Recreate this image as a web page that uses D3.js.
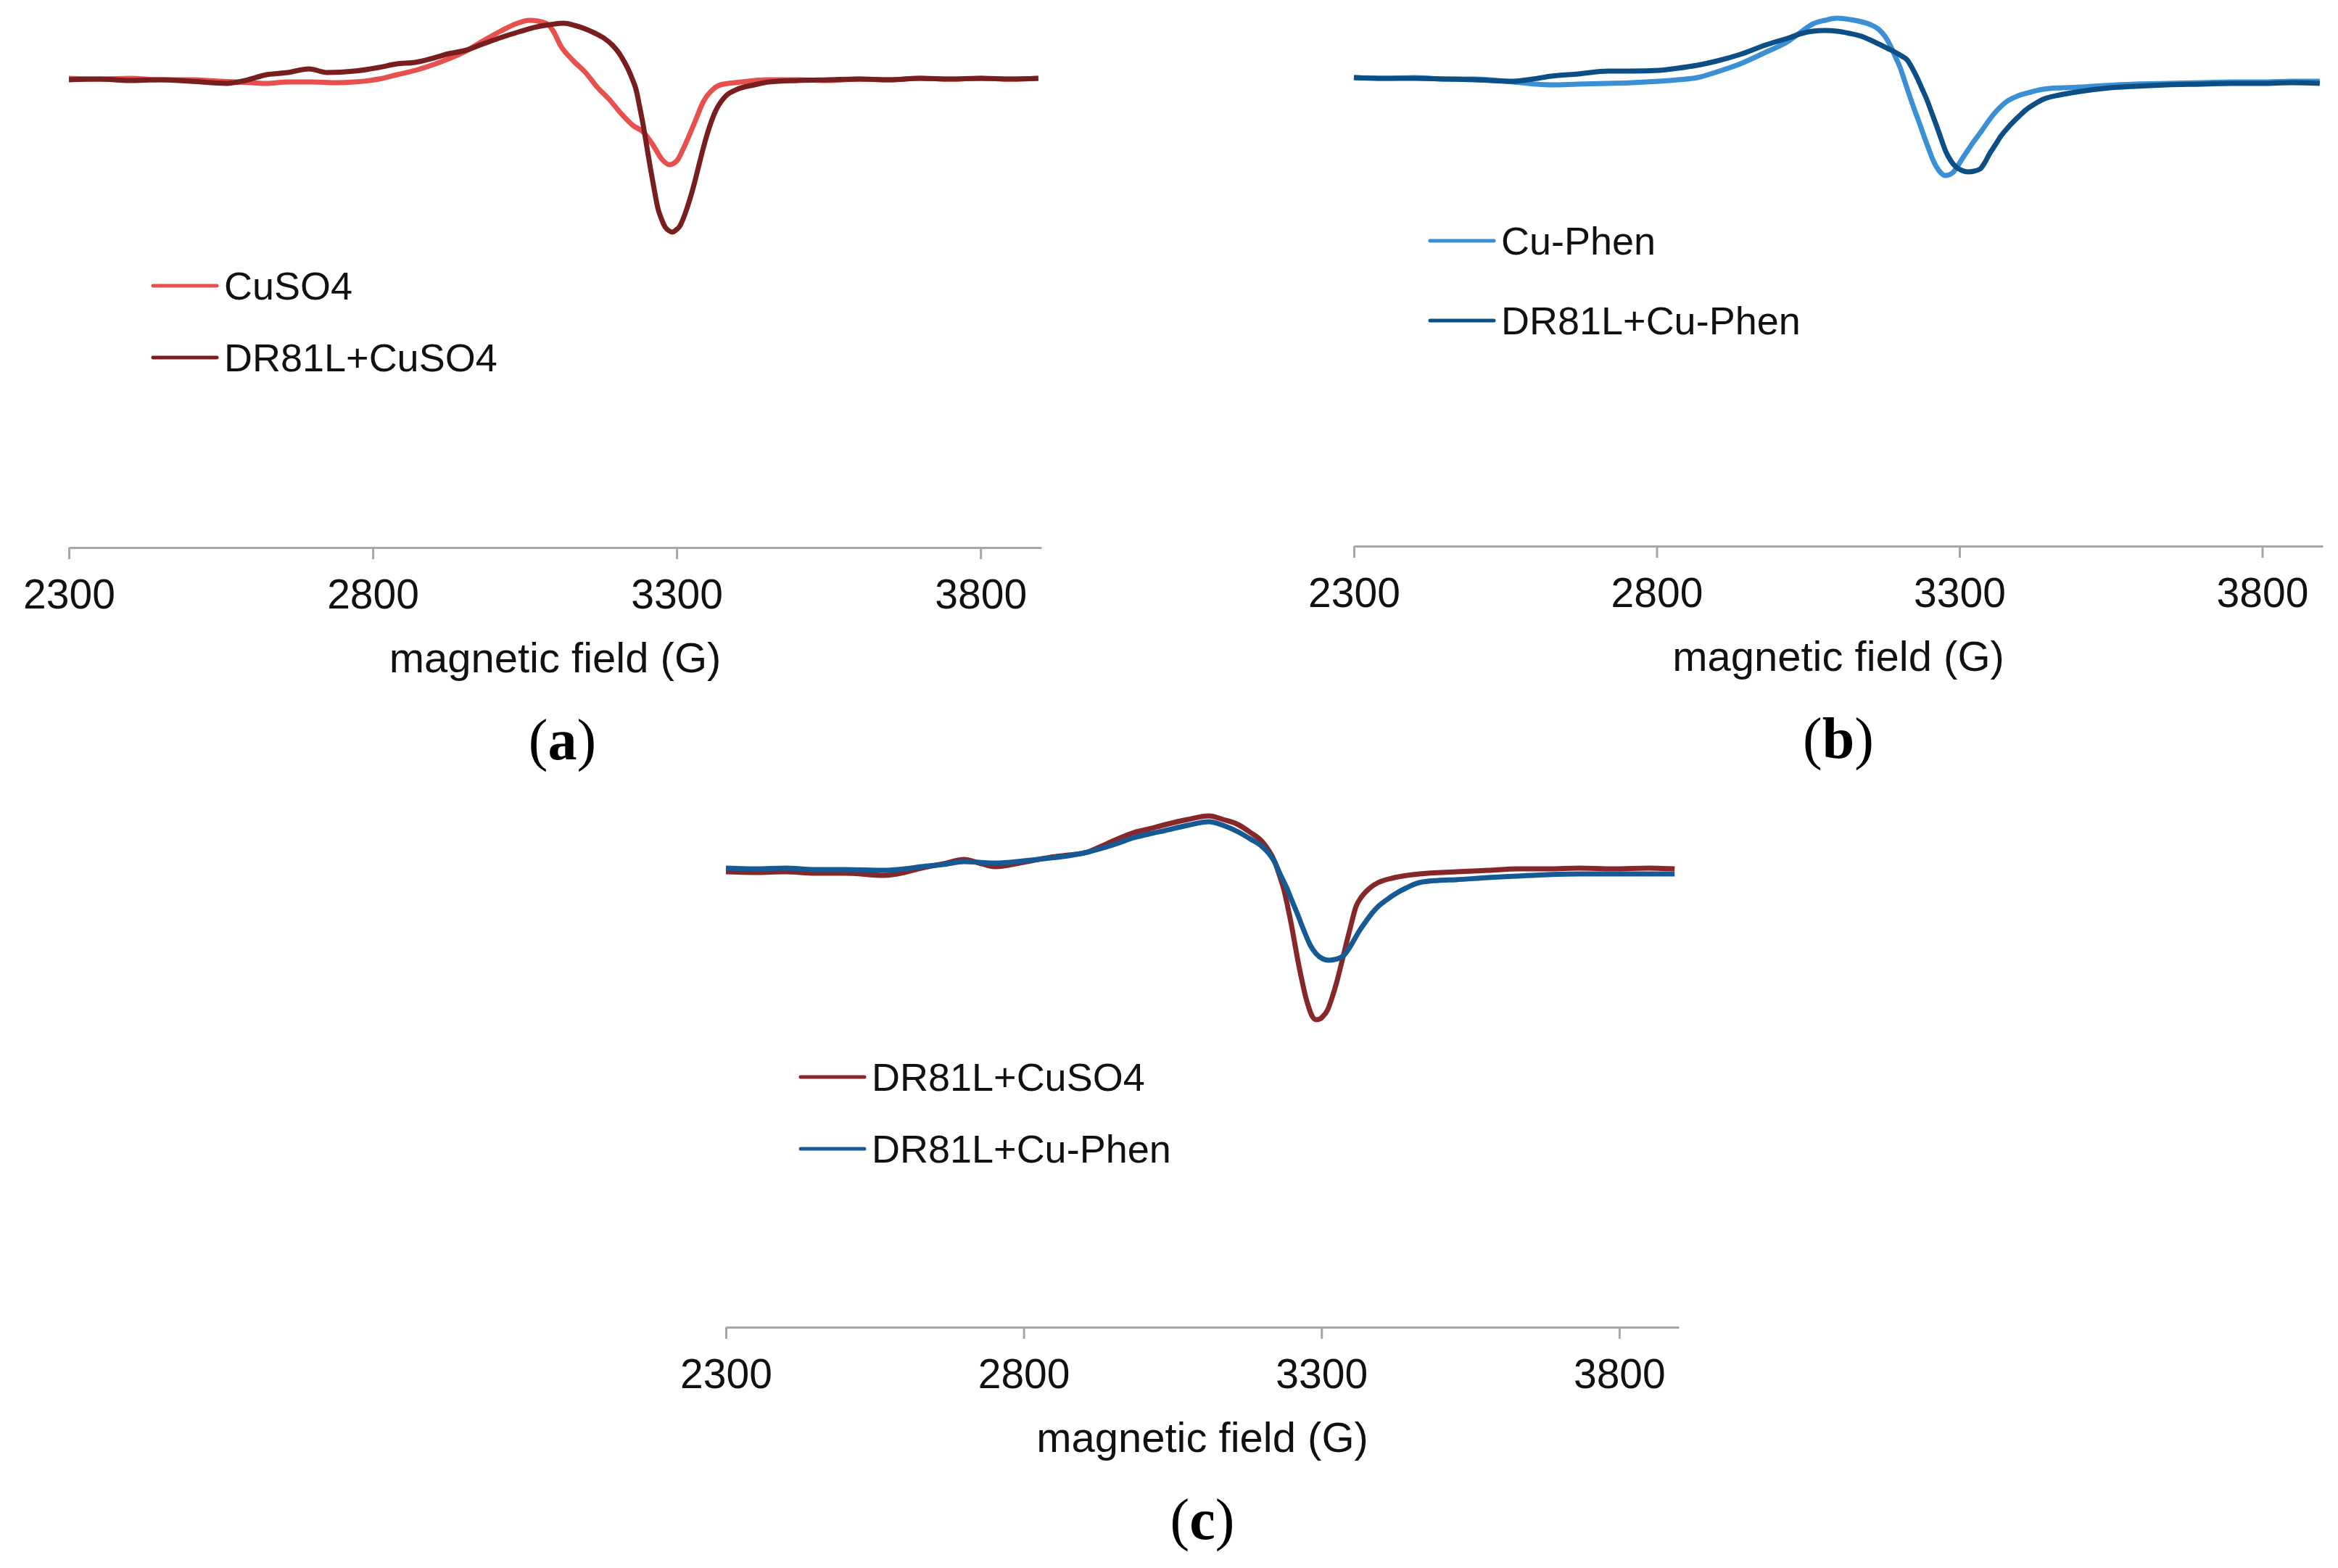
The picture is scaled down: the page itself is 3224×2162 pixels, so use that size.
<!DOCTYPE html>
<html>
<head>
<meta charset="utf-8">
<script src="https://cdn.jsdelivr.net/npm/d3@7"></script>
<style>
  html, body { margin: 0; padding: 0; background: #fff; }
  svg { display: block; }
</style>
</head>
<body>
<script>
// tick labels shared by all three panels
const fieldTicks = [2300, 2800, 3300, 3800];
const fieldDomain = [2300, 3900];

// EPR spectra: [field (G), signal (a.u.)]
const cuso4A = [
  [2300,-0.01],[2350,-0.02],[2400,-0.01],[2450,-0.03],[2500,-0.03],[2550,-0.05],[2600,-0.07],
  [2625,-0.08],[2660,-0.06],[2700,-0.06],[2740,-0.07],[2770,-0.06],[2810,-0.02],[2840,0.04],
  [2870,0.10],[2900,0.18],[2925,0.26],[2950,0.35],[2980,0.50],[3010,0.64],[3035,0.74],
  [3058,0.79],[3085,0.75],[3097,0.64],[3109,0.44],[3129,0.24],[3150,0.07],[3169,-0.13],
  [3189,-0.30],[3209,-0.50],[3228,-0.66],[3245,-0.75],[3261,-0.93],[3276,-1.13],[3288,-1.20],
  [3300,-1.15],[3312,-0.96],[3329,-0.63],[3344,-0.33],[3360,-0.16],[3372,-0.10],[3407,-0.06],
  [3448,-0.03],[3500,-0.03],[3550,-0.04],[3600,-0.02],[3650,-0.03],[3700,-0.01],[3750,-0.02],
  [3800,-0.01],[3850,-0.02],[3895,-0.01],
];
const dr81lCuso4A = [
  [2300,-0.03],[2350,-0.02],[2400,-0.04],[2450,-0.03],[2500,-0.05],[2560,-0.08],[2590,-0.04],
  [2625,0.04],[2660,0.07],[2695,0.12],[2725,0.07],[2770,0.09],[2810,0.14],[2840,0.19],
  [2870,0.21],[2900,0.27],[2925,0.33],[2950,0.37],[2980,0.46],[3010,0.55],[3040,0.63],
  [3070,0.70],[3092,0.73],[3114,0.75],[3132,0.72],[3150,0.67],[3166,0.61],[3181,0.54],
  [3194,0.45],[3205,0.34],[3213,0.23],[3221,0.10],[3227,-0.02],[3233,-0.16],[3239,-0.40],
  [3245,-0.66],[3251,-0.96],[3257,-1.26],[3263,-1.54],[3269,-1.80],[3275,-1.95],[3281,-2.06],
  [3287,-2.11],[3293,-2.13],[3299,-2.10],[3305,-2.05],[3311,-1.94],[3317,-1.80],[3323,-1.64],
  [3329,-1.46],[3335,-1.26],[3341,-1.06],[3352,-0.73],[3364,-0.46],[3380,-0.26],[3400,-0.16],
  [3428,-0.10],[3452,-0.06],[3500,-0.04],[3550,-0.03],[3600,-0.02],[3650,-0.03],[3700,-0.01],
  [3750,-0.02],[3800,-0.01],[3850,-0.02],[3895,-0.01],
];
const cuPhenB = [
  [2300,0.01],[2350,0.00],[2400,0.01],[2450,-0.01],[2500,-0.01],[2563,-0.05],[2600,-0.08],
  [2626,-0.09],[2670,-0.08],[2720,-0.07],[2760,-0.06],[2804,-0.04],[2835,-0.02],[2867,0.01],
  [2900,0.09],[2938,0.20],[2980,0.36],[3019,0.52],[3040,0.65],[3058,0.75],[3078,0.80],
  [3098,0.83],[3120,0.81],[3138,0.78],[3153,0.74],[3166,0.68],[3177,0.58],[3186,0.45],
  [3194,0.30],[3202,0.15],[3210,-0.05],[3218,-0.25],[3226,-0.44],[3234,-0.62],[3242,-0.81],
  [3250,-0.99],[3256,-1.12],[3262,-1.22],[3269,-1.30],[3276,-1.34],[3283,-1.33],[3289,-1.30],
  [3297,-1.21],[3306,-1.09],[3314,-0.99],[3322,-0.89],[3330,-0.80],[3337,-0.72],[3347,-0.60],
  [3357,-0.49],[3367,-0.40],[3378,-0.32],[3397,-0.24],[3418,-0.19],[3438,-0.15],[3470,-0.13],
  [3500,-0.12],[3538,-0.10],[3590,-0.08],[3643,-0.07],[3700,-0.06],[3748,-0.05],[3800,-0.05],
  [3850,-0.04],[3895,-0.04],
];
const dr81lCuPhenB = [
  [2300,0.01],[2350,0.00],[2400,0.00],[2450,-0.01],[2500,-0.02],[2563,-0.04],[2595,-0.01],
  [2626,0.03],[2670,0.06],[2720,0.10],[2760,0.10],[2804,0.11],[2835,0.14],[2867,0.18],
  [2900,0.24],[2938,0.33],[2980,0.46],[3019,0.56],[3040,0.62],[3058,0.65],[3078,0.66],
  [3098,0.65],[3118,0.62],[3138,0.58],[3155,0.52],[3170,0.46],[3182,0.41],[3194,0.36],
  [3204,0.31],[3214,0.25],[3222,0.14],[3230,0.01],[3238,-0.14],[3246,-0.29],[3254,-0.47],
  [3262,-0.65],[3270,-0.84],[3278,-1.02],[3286,-1.14],[3294,-1.22],[3304,-1.27],[3314,-1.29],
  [3324,-1.28],[3334,-1.25],[3342,-1.16],[3349,-1.05],[3359,-0.92],[3369,-0.79],[3380,-0.68],
  [3390,-0.59],[3400,-0.51],[3409,-0.44],[3423,-0.36],[3438,-0.29],[3465,-0.23],[3500,-0.18],
  [3538,-0.14],[3590,-0.11],[3643,-0.09],[3700,-0.08],[3748,-0.07],[3800,-0.07],[3850,-0.06],
  [3895,-0.07],
];
const dr81lCuso4C = [
  [2300,-0.04],[2350,-0.05],[2400,-0.04],[2450,-0.06],[2500,-0.06],[2566,-0.09],[2600,-0.05],
  [2628,0.01],[2665,0.07],[2700,0.13],[2725,0.08],[2752,0.03],[2800,0.09],[2845,0.16],
  [2875,0.19],[2907,0.23],[2930,0.31],[2957,0.41],[2985,0.50],[3010,0.55],[3038,0.61],
  [3075,0.68],[3111,0.73],[3135,0.68],[3160,0.61],[3181,0.50],[3200,0.38],[3211,0.26],
  [3221,0.11],[3229,-0.08],[3237,-0.29],[3243,-0.51],[3249,-0.75],[3255,-1.02],[3261,-1.29],
  [3267,-1.53],[3273,-1.75],[3279,-1.92],[3285,-2.04],[3291,-2.08],[3297,-2.07],[3303,-2.03],
  [3310,-1.95],[3318,-1.77],[3326,-1.55],[3334,-1.29],[3342,-1.02],[3350,-0.76],[3358,-0.52],
  [3366,-0.40],[3374,-0.32],[3385,-0.24],[3395,-0.19],[3423,-0.12],[3464,-0.07],[3526,-0.04],
  [3580,-0.02],[3629,0.00],[3680,0.00],[3733,0.01],[3790,0.00],[3850,0.01],[3893,0.00],
];
const dr81lCuPhenC = [
  [2300,0.01],[2350,0.00],[2400,0.01],[2450,-0.01],[2500,-0.01],[2566,-0.02],[2600,0.00],
  [2628,0.03],[2665,0.06],[2700,0.10],[2725,0.09],[2752,0.08],[2800,0.11],[2845,0.15],
  [2875,0.18],[2907,0.23],[2930,0.28],[2957,0.35],[2985,0.43],[3010,0.48],[3038,0.53],
  [3075,0.60],[3111,0.65],[3135,0.60],[3160,0.51],[3181,0.41],[3200,0.31],[3211,0.22],
  [3221,0.10],[3231,-0.08],[3241,-0.25],[3251,-0.45],[3261,-0.65],[3271,-0.86],[3281,-1.05],
  [3291,-1.17],[3302,-1.24],[3312,-1.26],[3322,-1.25],[3330,-1.23],[3338,-1.19],[3346,-1.10],
  [3354,-0.99],[3364,-0.85],[3375,-0.72],[3385,-0.61],[3395,-0.52],[3409,-0.43],[3423,-0.35],
  [3443,-0.26],[3464,-0.19],[3495,-0.16],[3526,-0.15],[3580,-0.12],[3629,-0.10],[3680,-0.08],
  [3733,-0.07],[3790,-0.07],[3850,-0.07],[3893,-0.07],
];

const width = 3224;
const height = 2162;
const font = '"Liberation Sans", Arial, sans-serif';

// layout of each panel (pixels); y0 is where the zero signal sits
const panels = [
  {
    letter: 'a', left: 95, right: 1436, y0: 107, axisY: 755, legX: 211, legY: [394, 493],
    series: [
      { name: 'CuSO4', data: cuso4A, color: '#e8504e' },
      { name: 'DR81L+CuSO4', data: dr81lCuso4A, color: '#781e1f' },
    ],
  },
  {
    letter: 'b', left: 1867, right: 3203, y0: 108, axisY: 753, legX: 1972, legY: [332, 442],
    series: [
      { name: 'Cu-Phen', data: cuPhenB, color: '#3b8fd4' },
      { name: 'DR81L+Cu-Phen', data: dr81lCuPhenB, color: '#0c4f86' },
    ],
  },
  {
    letter: 'c', left: 1001, right: 2315, y0: 1198, axisY: 1830, legX: 1104, legY: [1485, 1584],
    series: [
      { name: 'DR81L+CuSO4', data: dr81lCuso4C, color: '#86272a' },
      { name: 'DR81L+Cu-Phen', data: dr81lCuPhenC, color: '#155a95' },
    ],
  },
];

const svg = d3
  .select('body')
  .append('svg')
  .attr('width', width)
  .attr('height', height)
  .attr('viewBox', `0 0 ${width} ${height}`);

panels.forEach((p) => {
  const g = svg.append('g');

  const x = d3.scaleLinear().domain(fieldDomain).range([p.left, p.right]);
  // 100 px per signal unit, zero at y0, axis line at the bottom of the plot area
  const y = d3
    .scaleLinear()
    .domain([(p.y0 - p.axisY) / 100, p.y0 / 100])
    .range([p.axisY, 0]);

  const line = d3
    .line()
    .x((d) => x(d[0]))
    .y((d) => y(d[1]))
    .curve(d3.curveMonotoneX);

  p.series.forEach((s) => {
    g.append('path')
      .datum(s.data)
      .attr('d', line)
      .attr('fill', 'none')
      .attr('stroke', s.color)
      .attr('stroke-width', 7)
      .attr('stroke-linejoin', 'round');
  });

  // bottom axis only, Excel-like grey
  const axis = g
    .append('g')
    .attr('transform', `translate(0, ${p.axisY})`)
    .call(
      d3
        .axisBottom(x)
        .tickValues(fieldTicks)
        .tickFormat(d3.format('d'))
        .tickSize(16)
        .tickSizeOuter(0)
        .tickPadding(28),
    );
  axis.select('.domain').attr('stroke', '#a6a6a6').attr('stroke-width', 3);
  axis.selectAll('.tick line').attr('stroke', '#a6a6a6').attr('stroke-width', 3);
  axis
    .selectAll('.tick text')
    .attr('fill', '#111')
    .attr('font-family', font)
    .attr('font-size', 57);

  const mid = (p.left + p.right) / 2;
  g.append('text')
    .attr('x', mid)
    .attr('y', p.axisY + 172)
    .attr('text-anchor', 'middle')
    .attr('font-family', font)
    .attr('font-size', 58)
    .attr('fill', '#111')
    .text('magnetic field (G)');

  const letter = g
    .append('text')
    .attr('x', mid + (p.letter === 'a' ? 10 : 0))
    .attr('y', p.axisY + 292)
    .attr('text-anchor', 'middle')
    .attr('font-family', '"Liberation Serif", "Times New Roman", serif')
    .attr('font-size', 80)
    .attr('fill', '#000');
  letter.append('tspan').text('(');
  letter.append('tspan').attr('font-weight', 'bold').text(p.letter);
  letter.append('tspan').text(')');

  // legend
  p.series.forEach((s, i) => {
    const ly = p.legY[i];
    g.append('line')
      .attr('x1', p.legX)
      .attr('x2', p.legX + 88)
      .attr('y1', ly)
      .attr('y2', ly)
      .attr('stroke', s.color)
      .attr('stroke-width', 5)
      .attr('stroke-linecap', 'round');
    g.append('text')
      .attr('x', p.legX + 98)
      .attr('y', ly)
      .attr('dy', '0.36em')
      .attr('font-family', font)
      .attr('font-size', 54)
      .attr('fill', '#111')
      .text(s.name);
  });
});
</script>
</body>
</html>
